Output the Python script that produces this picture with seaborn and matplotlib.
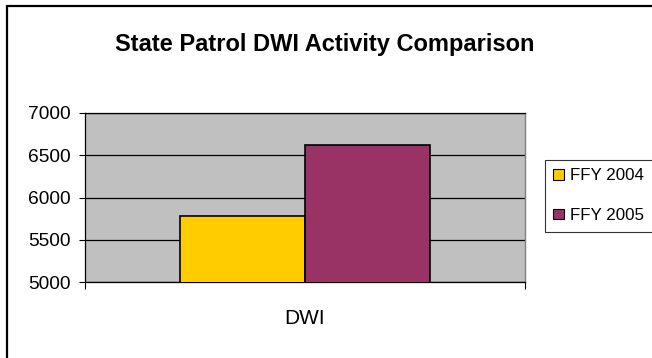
import matplotlib
matplotlib.use("Agg")
import matplotlib.pyplot as plt
import seaborn as sns
import pandas as pd
from matplotlib.patches import Rectangle, Patch
from matplotlib.ticker import FixedLocator

categories = ["DWI"]
series = ["FFY 2004", "FFY 2005"]
values_2004 = [5785]
values_2005 = [6615]
y_ticks = [5000, 5500, 6000, 6500, 7000]
colors = ["#FFCC00", "#993366"]

df = pd.DataFrame({
    "category": categories * 2,
    "series": [series[0]] * len(categories) + [series[1]] * len(categories),
    "value": values_2004 + values_2005,
})

sns.set_style("white")
plt.rcParams["font.family"] = ["Liberation Sans", "DejaVu Sans"]
plt.rcParams["text.color"] = "black"
plt.rcParams["xtick.color"] = "black"
plt.rcParams["ytick.color"] = "black"
plt.rcParams["xtick.labelcolor"] = "black"
plt.rcParams["ytick.labelcolor"] = "black"

fig = plt.figure(figsize=(6.52, 3.58), dpi=100)
ax = fig.add_axes([85 / 652, 1 - 282.3 / 358, 440 / 652, (282.3 - 112.7) / 358])
ax.set_facecolor("#C0C0C0")

sns.barplot(data=df, x="category", y="value", hue="series", palette=colors,
            width=0.57, edgecolor="black", linewidth=1.2, ax=ax, legend=False,
            saturation=1, zorder=3)

ax.set_ylim(5000, 7000)
ax.set_xlim(-0.5, 0.5)
ax.set_yticks(y_ticks)
ax.set_yticklabels([str(t) for t in y_ticks], fontsize=13.8, color="black")
ax.yaxis.grid(True, color="black", linewidth=0.9, zorder=1)
ax.set_axisbelow(True)
ax.set_xlabel("")
ax.set_ylabel("")

ax.tick_params(axis="y", direction="out", length=4, width=0.8, color="black", pad=6, left=True)
ax.set_xticks([0])
ax.set_xticklabels(categories, fontsize=15, color="black")
ax.tick_params(axis="x", which="major", length=0, pad=19)
ax.xaxis.set_minor_locator(FixedLocator([-0.5, 0.5]))
ax.tick_params(axis="x", which="minor", direction="out", length=5, width=0.8, color="black", bottom=True)

for side in ["left", "bottom"]:
    ax.spines[side].set_color("black")
    ax.spines[side].set_linewidth(0.9)
ax.spines["top"].set_color("black")
ax.spines["top"].set_linewidth(0.9)
ax.spines["right"].set_color("#808080")
ax.spines["right"].set_linewidth(1.0)

handles = [Patch(facecolor=c, edgecolor="black", linewidth=0.8) for c in colors]
leg = fig.legend(handles, series, loc="upper left",
                 bbox_to_anchor=(545 / 652, 1 - 160 / 358),
                 fontsize=12.2, frameon=True, fancybox=False, shadow=False,
                 handlelength=0.6, handleheight=0.6, handletextpad=0.4,
                 labelspacing=1.45, borderpad=0.5, borderaxespad=0)
leg.get_frame().set_edgecolor("black")
leg.get_frame().set_linewidth(0.8)
for t in leg.get_texts():
    t.set_color("black")

fig.text(325 / 652, 1 - 45 / 358, "State Patrol DWI Activity Comparison",
         ha="center", va="center", fontsize=17, fontweight="bold", color="black")

fig.add_artist(Rectangle((7 / 652, -0.2), 1.5, 1 - 6 / 358 + 0.2,
                         transform=fig.transFigure, fill=False,
                         edgecolor="black", linewidth=1.6))

fig.savefig("out.png", dpi=100)
